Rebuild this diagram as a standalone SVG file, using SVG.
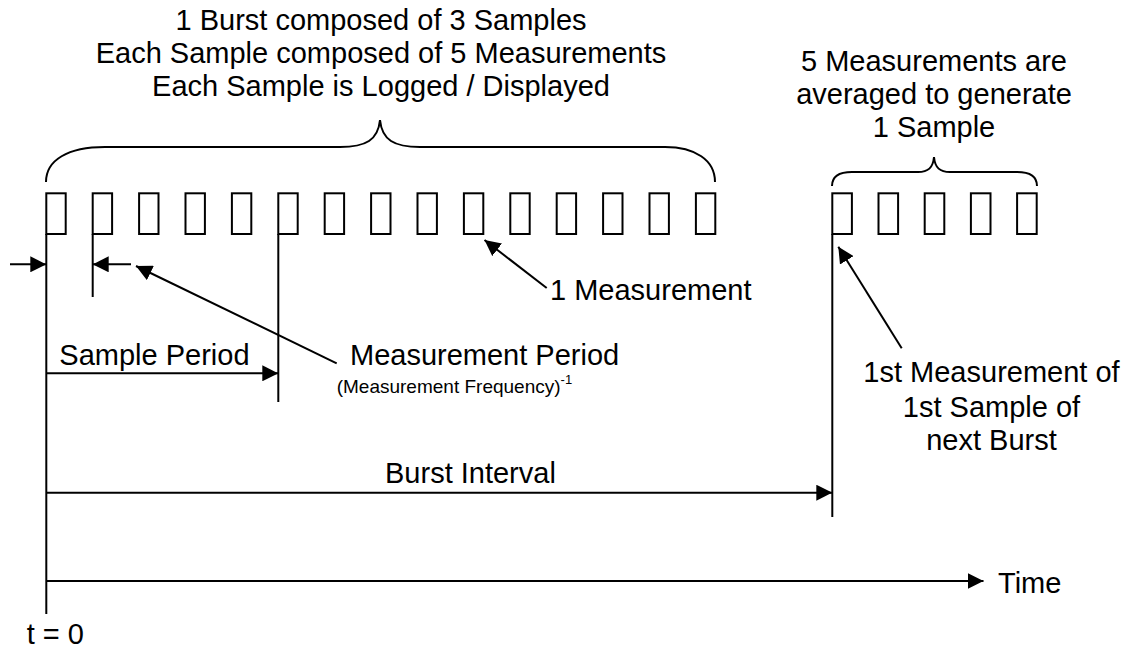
<svg xmlns="http://www.w3.org/2000/svg" width="1128" height="650" viewBox="0 0 1128 650">
<style>
  .t { font-family: "Liberation Sans", Arial, sans-serif; font-size: 29px; fill: #000; }
  .s { font-family: "Liberation Sans", Arial, sans-serif; font-size: 19px; fill: #000; }
  .sup { font-family: "Liberation Sans", Arial, sans-serif; font-size: 13px; fill: #000; }
  .m rect { fill: none; stroke: #000; stroke-width: 2; }
  .ln { fill: none; stroke: #000; stroke-width: 2; }
  .ar { fill: none; stroke: #000; stroke-width: 2; marker-end: url(#ah); }
</style>
<defs>
  <marker id="ah" markerUnits="userSpaceOnUse" markerWidth="16" markerHeight="16" viewBox="0 0 16 16" refX="16" refY="8" orient="auto">
    <path d="M0,0 L16,8 L0,16 Z" fill="#000"/>
  </marker>
</defs>
<rect width="1128" height="650" fill="#fff"/>

<g id="burst-label">
  <text class="t" x="381" y="30" text-anchor="middle">1 Burst composed of 3 Samples</text>
  <text class="t" x="381" y="63" text-anchor="middle">Each Sample composed of 5 Measurements</text>
  <text class="t" x="381" y="96" text-anchor="middle">Each Sample is Logged / Displayed</text>
</g>
<g id="burst-brace">
  <path class="ln" d="M46,182 C46,160 68,147 105,147 L340,147 C366,147 378,140 380,120 C382,140 394,147 420,147 L665,147 C695,147 715,160 715,182"/>
</g>
<g id="sample-label">
  <text class="t" x="934" y="71" text-anchor="middle">5 Measurements are</text>
  <text class="t" x="934" y="104" text-anchor="middle">averaged to generate</text>
  <text class="t" x="934" y="137" text-anchor="middle">1 Sample</text>
</g>
<g id="sample-brace">
  <path class="ln" d="M832,186 C832,177 838,172 852,172 L918,172 C928,172 933,168 934,157 C935,168 940,172 950,172 L1017,172 C1031,172 1037,177 1037,186"/>
</g>

<g id="burst-measurements" class="m">
  <rect x="46.3" y="193.3" width="19.4" height="40.7"/>
  <rect x="92.7" y="193.3" width="19.4" height="40.7"/>
  <rect x="139.1" y="193.3" width="19.4" height="40.7"/>
  <rect x="185.5" y="193.3" width="19.4" height="40.7"/>
  <rect x="231.9" y="193.3" width="19.4" height="40.7"/>
  <rect x="278.3" y="193.3" width="19.4" height="40.7"/>
  <rect x="324.7" y="193.3" width="19.4" height="40.7"/>
  <rect x="371.1" y="193.3" width="19.4" height="40.7"/>
  <rect x="417.5" y="193.3" width="19.4" height="40.7"/>
  <rect x="463.9" y="193.3" width="19.4" height="40.7"/>
  <rect x="510.3" y="193.3" width="19.4" height="40.7"/>
  <rect x="556.7" y="193.3" width="19.4" height="40.7"/>
  <rect x="603.1" y="193.3" width="19.4" height="40.7"/>
  <rect x="649.5" y="193.3" width="19.4" height="40.7"/>
  <rect x="695.9" y="193.3" width="19.4" height="40.7"/>
</g>
<g id="next-burst-measurements" class="m">
  <rect x="832.3" y="193.3" width="19.6" height="40.7"/>
  <rect x="878.5" y="193.3" width="19.6" height="40.7"/>
  <rect x="924.7" y="193.3" width="19.6" height="40.7"/>
  <rect x="970.9" y="193.3" width="19.6" height="40.7"/>
  <rect x="1017.1" y="193.3" width="19.6" height="40.7"/>
</g>

<g id="connectors">
  <line class="ln" x1="46.3" y1="234" x2="46.3" y2="614"/>
  <line class="ln" x1="92.7" y1="234" x2="92.7" y2="297"/>
  <line class="ln" x1="278.3" y1="234" x2="278.3" y2="402"/>
  <line class="ln" x1="832.3" y1="234" x2="832.3" y2="517"/>
  <line class="ar" x1="10" y1="264.3" x2="46.3" y2="264.3"/>
  <line class="ar" x1="131" y1="264.3" x2="92.7" y2="264.3"/>
  <line class="ar" x1="336.7" y1="363.3" x2="136" y2="266"/>
  <line class="ar" x1="546.7" y1="288" x2="484.5" y2="240"/>
  <line class="ar" x1="901.7" y1="348.3" x2="838.3" y2="246.7"/>
  <line class="ar" x1="46.3" y1="373.3" x2="278.3" y2="373.3"/>
  <line class="ar" x1="46.3" y1="492.7" x2="832.3" y2="492.7"/>
  <line class="ar" x1="46.3" y1="581" x2="983.5" y2="581"/>
</g>

<g id="labels">
  <text class="t" x="550" y="300">1 Measurement</text>
  <text class="t" x="59.3" y="365">Sample Period</text>
  <text class="t" x="350" y="365">Measurement Period</text>
  <text class="s" x="336.7" y="393.3">(Measurement Frequency)<tspan class="sup" dy="-9">-1</tspan></text>
  <text class="t" x="385" y="482.7">Burst Interval</text>
  <text class="t" x="991.5" y="381.7" text-anchor="middle">1st Measurement of</text>
  <text class="t" x="991.5" y="416.7" text-anchor="middle">1st Sample of</text>
  <text class="t" x="991.5" y="450" text-anchor="middle">next Burst</text>
  <text class="t" x="998" y="593">Time</text>
  <text class="t" x="26.7" y="644">t = 0</text>
</g>
</svg>
